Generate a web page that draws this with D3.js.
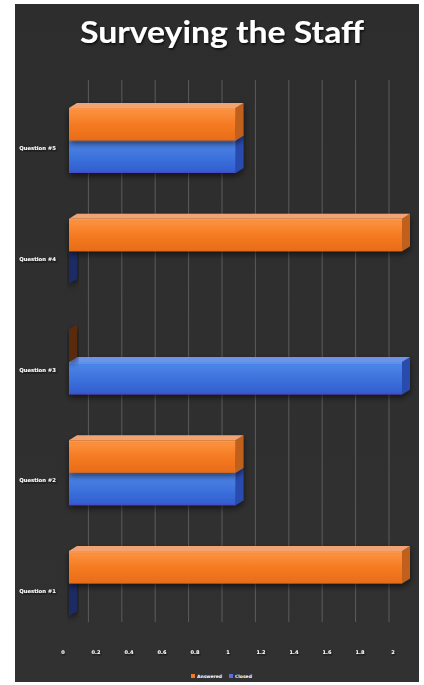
<!DOCTYPE html>
<html><head><meta charset="utf-8">
<script src="https://cdn.jsdelivr.net/npm/d3@7"></script>
<style>html,body{margin:0;padding:0;background:#fff;}svg{display:block;}</style>
</head><body>
<script>
const categories = ["Question #1","Question #2","Question #3","Question #4","Question #5"];
const seriesNames = ["Answered","Closed"];
const answered = [2, 1, 0, 2, 1];
const closed   = [0, 1, 2, 0, 1];
const tickValues = [0,0.2,0.4,0.6,0.8,1,1.2,1.4,1.6,1.8,2];
const tickLabels = ["0","0.2","0.4","0.6","0.8","1","1.2","1.4","1.6","1.8","2"];
const title = "Surveying the Staff";

const W = 424, H = 685;
const svg = d3.select("body").append("svg").attr("width", W).attr("height", H);
const defs = svg.append("defs");

function grad(id, stops){
  const g = defs.append("linearGradient").attr("id", id).attr("x1",0).attr("y1",0).attr("x2",0).attr("y2",1);
  stops.forEach(s => g.append("stop").attr("offset", s[0]).attr("stop-color", s[1]));
}
grad("gOr", [[0,"#f78a3a"],[0.12,"#fb8f3c"],[0.5,"#f57b22"],[1,"#e86c18"]]);
grad("gBl", [[0,"#4d86e8"],[0.15,"#4a82e6"],[0.6,"#3a6fda"],[0.92,"#3460d0"],[1,"#4a48c8"]]);
grad("gBg", [[0,"#2d2d2d"],[1,"#313131"]]);
const f = defs.append("filter").attr("id","sh").attr("x","-20%").attr("y","-20%").attr("width","140%").attr("height","150%");
f.append("feDropShadow").attr("dx",0).attr("dy",3).attr("stdDeviation",3).attr("flood-color","#000").attr("flood-opacity",0.6);
const ft = defs.append("filter").attr("id","tsh");
ft.append("feDropShadow").attr("dx",1).attr("dy",1.5).attr("stdDeviation",1.2).attr("flood-color","#000").attr("flood-opacity",0.8);

// panel
svg.append("rect").attr("x",15).attr("y",4).attr("width",404).attr("height",678).attr("fill","url(#gBg)");

// scales
const xBar  = d3.scaleLinear().domain([0,2]).range([69,402]);
const xGrid = d3.scaleLinear().domain([0,2]).range([55,389]);
const xTick = d3.scaleLinear().domain([0,2]).range([63,393]);
const yC = d3.scalePoint().domain(categories).range([584,141]);
const yS = d3.scaleBand().domain(["a","c"]).range([-33,32]).padding(0);

// gridlines
svg.append("g").selectAll("line").data(tickValues.slice(1)).join("line")
  .attr("x1", d => xGrid(d)).attr("x2", d => xGrid(d))
  .attr("y1", 80).attr("y2", 622)
  .attr("stroke","#7a7a7a").attr("stroke-width",1).attr("opacity",0.6);

// title
svg.append("text").attr("x",222).attr("y",43).attr("text-anchor","middle")
  .attr("font-family","Lato, 'Open Sans', sans-serif").attr("font-weight",700)
  .attr("font-size",31).attr("textLength",284).attr("lengthAdjust","spacingAndGlyphs")
  .attr("fill","#fff").attr("filter","url(#tsh)").text(title);

const dx = 8, dy = -5;
const colors = {
  a: {front:"url(#gOr)", top:"#f2a373", side:"#c0601c", zero:"#5a2a10"},
  c: {front:"url(#gBl)", top:"#6d94ea", side:"#2a4cae", zero:"#1c2c66"}
};

const bars = [];
categories.forEach((c,i) => {
  bars.push({cat:c, key:"c", v:closed[i]});
  bars.push({cat:c, key:"a", v:answered[i]});
});

const gBars = svg.append("g");
bars.forEach(b => {
  const y0 = yC(b.cat) + yS(b.key);
  const y1 = y0 + yS.bandwidth();
  const x0 = xBar(0), x1 = xBar(b.v);
  const col = colors[b.key];
  const g = gBars.append("g").attr("filter","url(#sh)");
  if (b.v === 0) {
    g.append("path").attr("d", `M${x0},${y0} L${x0+dx},${y0+dy} L${x0+dx},${y1+dy} L${x0},${y1} Z`).attr("fill", col.zero);
    return;
  }
  g.append("path").attr("d", `M${x1},${y0} L${x1+dx},${y0+dy} L${x1+dx},${y1+dy} L${x1},${y1} Z`).attr("fill", col.side);
  g.append("path").attr("d", `M${x0},${y0} L${x0+dx},${y0+dy} L${x1+dx},${y0+dy} L${x1},${y0} Z`).attr("fill", col.top);
  g.append("rect").attr("x",x0).attr("y",y0).attr("width",x1-x0).attr("height",y1-y0).attr("fill",col.front);
  g.append("line").attr("x1",x0).attr("x2",x1).attr("y1",y0+1).attr("y2",y0+1).attr("stroke","#ffffff").attr("stroke-opacity",0.18);
});

// category labels
svg.append("g").selectAll("text").data(categories).join("text")
  .attr("x",56).attr("y", d => yC(d)+9).attr("text-anchor","end")
  .attr("font-family","'DejaVu Sans', sans-serif").attr("font-weight",700)
  .attr("font-size",5.3).attr("fill","#fff").attr("filter","url(#tsh)").text(d => d);

// x axis tick labels
svg.append("g").selectAll("text").data(tickValues).join("text")
  .attr("x", d => xTick(d)).attr("y", 654).attr("text-anchor","middle")
  .attr("font-family","'DejaVu Sans', sans-serif").attr("font-weight",700)
  .attr("font-size",5).attr("fill","#fff").attr("filter","url(#tsh)")
  .text((d,i) => tickLabels[i]);

// legend
const leg = svg.append("g");
const legItems = [{name:seriesNames[0], c:"#f07a28", x:191},{name:seriesNames[1], c:"#5a6ee0", x:229}];
legItems.forEach(it => {
  leg.append("rect").attr("x",it.x).attr("y",674).attr("width",4).attr("height",4).attr("fill",it.c);
  leg.append("text").attr("x",it.x+6).attr("y",678).attr("font-family","'DejaVu Sans', sans-serif")
    .attr("font-weight",700).attr("font-size",4.5).attr("fill","#fff").text(it.name);
});
</script>
</body></html>
